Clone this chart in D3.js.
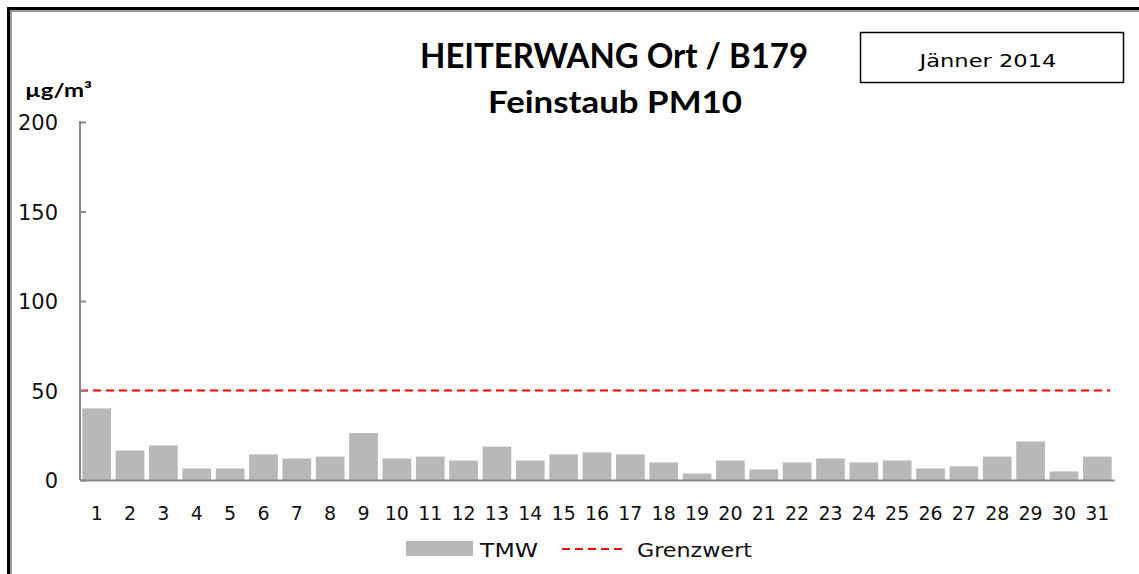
<!DOCTYPE html>
<html>
<head>
<meta charset="utf-8">
<script src="https://cdn.jsdelivr.net/npm/d3@7"></script>
<style>
  body { margin: 0; background: #fff; }
  svg { display: block; }
</style>
</head>
<body>
<div class="container"></div>
<script>
// PM10 daily means, Jänner 2014
var days = d3.range(1, 32).map(String);
var tmw = [40, 16.5, 19.3, 6.4, 6.4, 14.3, 12, 13.1, 26.2, 12,
           13.1, 10.9, 18.7, 10.9, 14.3, 15.4, 14.3, 9.8, 3.6, 10.9,
           5.9, 9.8, 12, 9.8, 10.9, 6.4, 7.6, 13.1, 21.5, 4.8, 13.1];
var grenzwert = [50];
var yTicks = [0, 50, 100, 150, 200];

var W = 1139, H = 574;
var plot = { left: 80, right: 1114, top: 122, bottom: 480 };

var svg = d3.select('.container').append('svg')
            .attr('width', W)
            .attr('height', H);

// frame (only top and left edges are in view)
svg.append('rect')
   .attr('x', 8.5).attr('y', 8.5)
   .attr('width', W + 20).attr('height', H + 20)
   .attr('fill', 'none').attr('stroke', '#000').attr('stroke-width', 3);
svg.append('rect')
   .attr('x', 11).attr('y', 11)
   .attr('width', W + 20).attr('height', H + 20)
   .attr('fill', 'none').attr('stroke', '#999').attr('stroke-width', 2);

var x = d3.scaleBand()
          .domain(days)
          .range([plot.left, plot.right])
          .paddingInner(0.14)
          .paddingOuter(0.07);

var y = d3.scaleLinear()
          .domain([0, 200])
          .range([plot.bottom, plot.top]);

// bars
svg.selectAll('rect.bar')
   .data(tmw)
   .enter()
   .append('rect')
   .attr('class', 'bar')
   .attr('x', function(d, i){ return x(days[i]); })
   .attr('y', function(d){ return y(d); })
   .attr('width', x.bandwidth())
   .attr('height', function(d){ return y(0) - y(d); })
   .attr('fill', '#b8b8b8');

// limit line
svg.selectAll('line.limit')
   .data(grenzwert)
   .enter()
   .append('line')
   .attr('class', 'limit')
   .attr('x1', plot.left).attr('x2', plot.right - 4)
   .attr('y1', function(d){ return y(d); })
   .attr('y2', function(d){ return y(d); })
   .attr('stroke', '#ff0000')
   .attr('stroke-width', 2)
   .attr('stroke-dasharray', '8,5');

// y axis
var yAxis = d3.axisRight(y).tickValues(yTicks).tickSize(6).tickFormat('');
var gy = svg.append('g')
            .attr('transform', 'translate(' + plot.left + ',0)')
            .call(yAxis);
gy.select('.domain').remove();
gy.selectAll('.tick line').attr('stroke', '#888').attr('stroke-width', 2);
gy.append('line')
  .attr('x1', 0).attr('x2', 0)
  .attr('y1', plot.top - 1).attr('y2', plot.bottom)
  .attr('stroke', '#888').attr('stroke-width', 2);

svg.selectAll('text.ylab')
   .data(yTicks)
   .enter()
   .append('text')
   .attr('class', 'ylab')
   .attr('x', 58)
   .attr('y', function(d){ return y(d) + 8; })
   .attr('text-anchor', 'end')
   .attr('font-family', 'DejaVu Sans')
   .attr('font-size', 21)
   .attr('fill', '#111')
   .text(function(d){ return d; });

// x axis
var xAxis = d3.axisBottom(x).tickSize(0).tickPadding(27);
var gx = svg.append('g')
            .attr('transform', 'translate(0,' + plot.bottom + ')')
            .call(xAxis);
gx.select('.domain').attr('stroke', '#888').attr('stroke-width', 2);
gx.selectAll('.tick text')
  .attr('font-family', 'DejaVu Sans')
  .attr('font-size', 19)
  .attr('fill', '#111');

// titles
svg.append('text')
   .attr('x', 614).attr('y', 68)
   .attr('text-anchor', 'middle')
   .attr('font-family', 'Lato').attr('font-weight', 'bold')
   .attr('font-size', 34)
   .attr('textLength', 388).attr('lengthAdjust', 'spacingAndGlyphs')
   .text('HEITERWANG Ort / B179');
svg.append('text')
   .attr('x', 615).attr('y', 113)
   .attr('text-anchor', 'middle')
   .attr('font-family', 'Lato').attr('font-weight', 'bold')
   .attr('font-size', 30)
   .attr('textLength', 254).attr('lengthAdjust', 'spacingAndGlyphs')
   .text('Feinstaub PM10');

// month box
svg.append('rect')
   .attr('x', 860.5).attr('y', 32.5)
   .attr('width', 263).attr('height', 50)
   .attr('fill', '#fff').attr('stroke', '#000').attr('stroke-width', 1.5);
svg.append('text')
   .attr('x', 988).attr('y', 67)
   .attr('text-anchor', 'middle')
   .attr('font-family', 'DejaVu Sans')
   .attr('font-size', 18)
   .attr('textLength', 137).attr('lengthAdjust', 'spacingAndGlyphs')
   .text('Jänner 2014');

// unit
svg.append('text')
   .attr('x', 25).attr('y', 97)
   .attr('font-family', 'Lato').attr('font-weight', 'bold')
   .attr('font-size', 19)
   .attr('textLength', 67).attr('lengthAdjust', 'spacingAndGlyphs')
   .text('µg/m³');

// legend
var legend = svg.append('g');
legend.append('rect')
      .attr('x', 406).attr('y', 541)
      .attr('width', 67).attr('height', 15)
      .attr('fill', '#b8b8b8');
legend.append('text')
      .attr('x', 480).attr('y', 557)
      .attr('font-family', 'DejaVu Sans').attr('font-size', 20)
      .attr('fill', '#111')
      .attr('textLength', 58).attr('lengthAdjust', 'spacingAndGlyphs')
      .text('TMW');
legend.append('line')
      .attr('x1', 562).attr('x2', 626)
      .attr('y1', 549).attr('y2', 549)
      .attr('stroke', '#ff0000').attr('stroke-width', 2)
      .attr('stroke-dasharray', '8,5');
legend.append('text')
      .attr('x', 637).attr('y', 557)
      .attr('font-family', 'DejaVu Sans').attr('font-size', 20)
      .attr('fill', '#111')
      .attr('textLength', 115).attr('lengthAdjust', 'spacingAndGlyphs')
      .text('Grenzwert');
</script>
</body>
</html>
